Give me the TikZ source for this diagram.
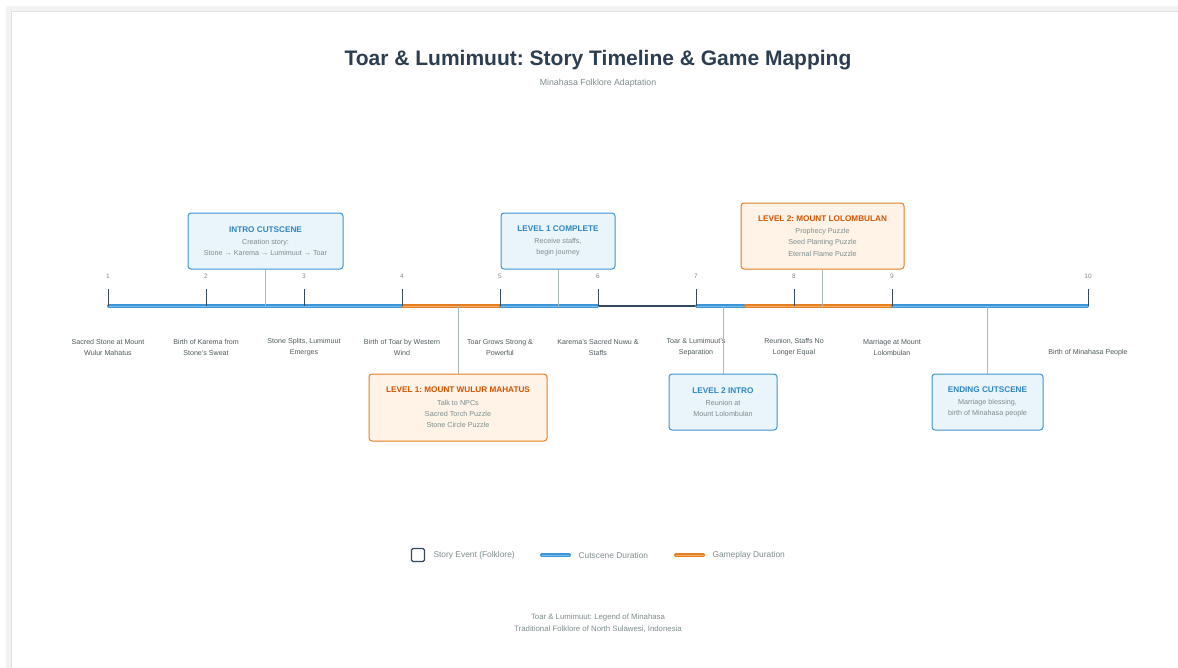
\documentclass[tikz,border=0pt]{standalone}
\usepackage{fontspec}
\setmainfont{Liberation Sans}
\usetikzlibrary{positioning}
\frenchspacing

\definecolor{titletext}{HTML}{2C3E50}
\definecolor{axisdark}{HTML}{34495E}
\definecolor{cutblue}{HTML}{3C95D6}
\definecolor{cutlight}{HTML}{7DBDEA}
\definecolor{cutfill}{HTML}{EAF4FB}
\definecolor{cuttext}{HTML}{2E86C1}
\definecolor{gameorange}{HTML}{E67E22}
\definecolor{gamelight}{HTML}{F5B070}
\definecolor{gamefill}{HTML}{FEF3E6}
\definecolor{gametext}{HTML}{D35400}
\definecolor{linkgray}{HTML}{AAB7B8}
\definecolor{bodygray}{HTML}{7F8C8D}
\definecolor{eventgray}{HTML}{4F5B5C}

\begin{document}
\begin{tikzpicture}[
    x=1pt, y=-1pt,
    cutbox/.style={draw=cutblue, fill=cutfill, rounded corners=3pt, line width=1pt, align=center, inner sep=0pt},
    gamebox/.style={draw=gameorange, fill=gamefill, rounded corners=3pt, line width=1pt, align=center, inner sep=0pt},
    boxtext/.style={align=center, font=\fontsize{7.2}{11.3}\selectfont, text=bodygray},
    cutbar/.style={draw=cutblue, double=cutlight, double distance=1pt, line width=1.5pt, line cap=round, shorten <=1pt, shorten >=1pt},
    gamebar/.style={draw=gameorange, double=gamelight, double distance=1pt, line width=1.5pt, line cap=round, shorten <=1pt, shorten >=1pt},
    axisline/.style={draw=axisdark, line width=1.3pt},
    tickmark/.style={draw=axisdark, line width=1pt},
    ticknum/.style={font=\fontsize{6.5}{7}\selectfont, text=bodygray},
    eventlabel/.style={font=\fontsize{7.1}{11}\selectfont, text=eventgray, align=center},
    legendtext/.style={font=\fontsize{8.4}{10}\selectfont, text=bodygray, anchor=west},
    link/.style={draw=linkgray, line width=0.9pt}
]
    \useasboundingbox (0,0) rectangle (1178,667);
    \fill[white] (0,0) rectangle (1178,667);
    % Card shadow
    \draw[black!5, line width=6pt] (9,670) -- (9,9) -- (1180,9);
    \draw[black!12, line width=1pt] (11,670) -- (11,11) -- (1180,11);

    % Title
    \node[font=\fontsize{21}{24}\selectfont\bfseries, text=titletext] (title) at (598,60) {Toar \& Lumimuut: Story Timeline \& Game Mapping};
    \node[font=\fontsize{8.8}{10}\selectfont, text=bodygray] (subtitle) at (598,83) {Minahasa Folklore Adaptation};

    % Ticks
    \foreach \i/\x in {1/108,2/206,3/304,4/402,5/500,6/598,7/696,8/794,9/892,10/1088} {
        \coordinate (t\i) at (\x,306);
        \node[ticknum] (n\i) at (\x,276) {\i};
    }
    \coordinate (m78) at (745,306);

    % Axis
    \draw[axisline] (t1) -- (t10);

    % Duration bars
    \draw[cutbar] (t1) -- (t4);
    \draw[gamebar] (t4) -- (t5);
    \draw[cutbar] (t5) -- (t6);
    \draw[cutbar] (t7) -- (m78);
    \draw[gamebar] (m78) -- (t9);
    \draw[cutbar] (t9) -- (t10);

    \foreach \i in {1,...,10} {
        \draw[tickmark] (t\i) -- ++(0,-17);
    }

    % Story events
    \node[eventlabel] (e1) at (108,347.5) {Sacred Stone at Mount\\Wulur Mahatus};
    \node[eventlabel] (e2) at (206,347.5) {Birth of Karema from\\Stone's Sweat};
    \node[eventlabel] (e3) at (304,347.5) {Stone Splits, Lumimuut\\Emerges};
    \node[eventlabel] (e4) at (402,347.5) {Birth of Toar by Western\\Wind};
    \node[eventlabel] (e5) at (500,347.5) {Toar Grows Strong \&\\Powerful};
    \node[eventlabel] (e6) at (598,347.5) {Karema's Sacred Nuwu \&\\Staffs};
    \node[eventlabel] (e7) at (696,347.5) {Toar \& Lumimuut's\\Separation};
    \node[eventlabel] (e8) at (794,347.5) {Reunion, Staffs No\\Longer Equal};
    \node[eventlabel] (e9) at (892,347.5) {Marriage at Mount\\Lolombulan};
    \node[eventlabel] (e10) at (1088,353) {Birth of Minahasa People};

    % Intro cutscene
    \node[cutbox, minimum width=155pt, minimum height=56pt] (intro) at (265.5,241) {};
    \node[boxtext] (introtext) at (intro) {{\bfseries\fontsize{8.2}{9}\selectfont\color{cuttext}INTRO CUTSCENE}\\[1pt] Creation story:\\ Stone → Karema → Lumimuut → Toar};

    % Level 1 complete
    \node[cutbox, minimum width=114pt, minimum height=56pt] (l1done) at (558,241) {};
    \node[boxtext] (l1donetext) at (l1done) {{\bfseries\fontsize{8.2}{9}\selectfont\color{cuttext}LEVEL 1 COMPLETE}\\[1pt] Receive staffs,\\ begin journey};

    % Level 2
    \node[gamebox, minimum width=163pt, minimum height=66pt] (l2) at (822.5,236) {};
    \node[boxtext] (l2text) at (l2) {{\bfseries\fontsize{8.2}{9}\selectfont\color{gametext}LEVEL 2: MOUNT LOLOMBULAN}\\[1pt] Prophecy Puzzle\\ Seed Planting Puzzle\\ Eternal Flame Puzzle};

    % Level 1
    \node[gamebox, minimum width=178pt, minimum height=67pt] (l1) at (458,407.5) {};
    \node[boxtext] (l1text) at (l1) {{\bfseries\fontsize{8.2}{9}\selectfont\color{gametext}LEVEL 1: MOUNT WULUR MAHATUS}\\[1pt] Talk to NPCs\\ Sacred Torch Puzzle\\ Stone Circle Puzzle};

    % Level 2 intro
    \node[cutbox, minimum width=108pt, minimum height=56pt] (l2intro) at (723,402) {};
    \node[boxtext] (l2introtext) at (l2intro) {{\bfseries\fontsize{8.2}{9}\selectfont\color{cuttext}LEVEL 2 INTRO}\\[1pt] Reunion at\\ Mount Lolombulan};

    % Ending cutscene
    \node[cutbox, minimum width=111pt, minimum height=56pt] (ending) at (987.5,402) {};
    \node[boxtext] (endingtext) at (ending) {{\bfseries\fontsize{8.2}{9}\selectfont\color{cuttext}ENDING CUTSCENE}\\[1pt] Marriage blessing,\\ birth of Minahasa people};

    % Links to the timeline
    \draw[link] (intro.south) -- (intro.south |- t1);
    \draw[link] (l1done.south) -- (l1done.south |- t1);
    \draw[link] (l2.south) -- (l2.south |- t1);
    \draw[link] (l1.north) -- (l1.north |- t1);
    \draw[link] (l2intro.north) -- (l2intro.north |- t1);
    \draw[link] (ending.north) -- (ending.north |- t1);

    % Legend
    \node[draw=axisdark, line width=1.2pt, rounded corners=1.5pt, minimum size=13pt, inner sep=0pt] (legevent) at (418,555) {};
    \node[legendtext] (legeventtext) at (430,555) {Story Event (Folklore)};
    \coordinate (legcuta) at (541,555);
    \coordinate (legcutb) at (570,555);
    \draw[cutbar] (legcuta) -- (legcutb);
    \node[legendtext] (legcuttext) at (575,555) {Cutscene Duration};
    \coordinate (leggamea) at (675,555);
    \coordinate (leggameb) at (704,555);
    \draw[gamebar] (leggamea) -- (leggameb);
    \node[legendtext] (leggametext) at (709,555) {Gameplay Duration};

    % Footer
    \node[font=\fontsize{7.8}{12}\selectfont, text=bodygray, align=center] (footer) at (598,623) {Toar \& Lumimuut: Legend of Minahasa\\ Traditional Folklore of North Sulawesi, Indonesia};

\end{tikzpicture}
\end{document}
